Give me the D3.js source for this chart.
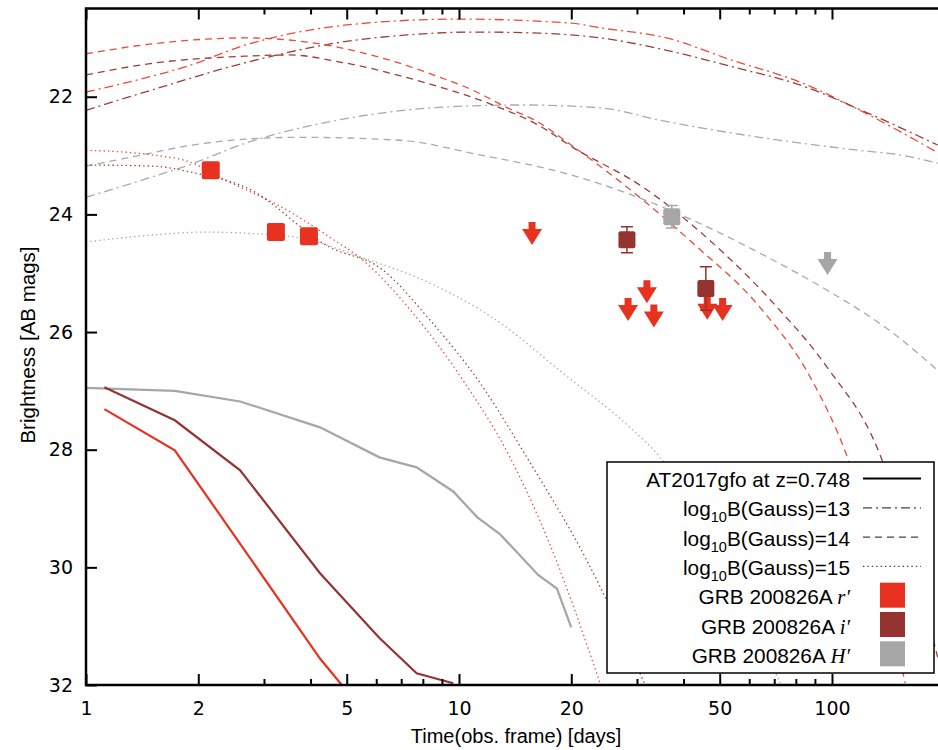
<!DOCTYPE html>
<html>
<head>
<meta charset="utf-8">
<script src="https://cdn.jsdelivr.net/npm/d3@7"></script>
<style>
body { margin: 0; background: #fff; }
svg { display: block; }
.tick text { font-family: "DejaVu Sans", sans-serif; font-size: 19px; fill: #000; }
.tick line { stroke: #000; stroke-width: 2; }
</style>
</head>
<body>
<div id="chart"></div>
<script>
// ---- data: [time (days), AB mag] ----
var xMajor = [1, 2, 5, 10, 20, 50, 100];
var xMinor = [3, 4, 6, 7, 8, 9, 30, 40, 60, 70, 80, 90];
var yTicks = [22, 24, 26, 28, 30, 32];

// AT2017gfo shifted to z=0.748
var kilonovaR = [[1.12,27.31],[1.73,28.01],[2.59,29.6],[4.24,31.55],[4.85,32.0]];
var kilonovaI = [[1.12,26.94],[1.73,27.5],[2.59,28.35],[4.24,30.1],[6.12,31.2],[7.7,31.8],[9.65,31.97]];
var kilonovaH = [[1.0,26.95],[1.73,27.0],[2.59,27.18],[4.24,27.62],[6.12,28.13],[7.7,28.3],[9.65,28.71],
                 [11.2,29.15],[12.9,29.44],[16.3,30.13],[18.3,30.36],[20.0,31.02]];

// magnetar-boosted models, log10 B = 13
var b13R = [[1,21.92],[1.36,21.72],[1.85,21.49],[2.68,21.12],[5,20.78],[10,20.68],[20,20.75],[24,20.83],
            [36,21.0],[54,21.38],[82,21.75],[123,22.28],[192,22.95]];
var b13I = [[1,22.23],[1.51,21.88],[2.68,21.42],[5.1,21.05],[7.25,20.95],[10.9,20.9],[16.5,20.92],[24,21.0],
            [36,21.21],[54,21.49],[82,21.8],[123,22.26],[192,22.82]];
var b13H = [[1,23.71],[1.51,23.36],[1.85,23.18],[2.68,22.79],[5.1,22.36],[8.9,22.18],[14.6,22.14],[24,22.19],
            [34.6,22.4],[64,22.69],[118,22.91],[152,22.99],[192,23.13]];
// log10 B = 14
var b14R = [[1,21.27],[1.51,21.1],[2.68,21.0],[3.91,21.07],[6.53,21.38],[8.9,21.67],[10.9,21.89],[13.4,22.18],
            [16.5,22.45],[18.7,22.69],[31.2,23.76],[42.4,24.49],[64.1,25.58],[87.5,26.77],[110,28.13],[134,29.88],[157,31.97]];
var b14I = [[1,21.63],[1.51,21.43],[2.68,21.31],[3.52,21.29],[4.8,21.41],[8.0,21.75],[12.1,22.12],[16.5,22.5],
            [20.2,22.86],[31.2,23.54],[47,24.44],[71.3,25.58],[97.1,26.6],[134,28.06],[192,31.53]];
var b14H = [[1,23.18],[1.36,23.01],[1.85,22.84],[2.68,22.72],[3.75,22.69],[6.94,22.74],[11.4,22.99],[18.7,23.28],
            [28.2,23.64],[42.4,24.1],[64.1,24.66],[97.1,25.29],[146,26.02],[192,26.65]];
// log10 B = 15
var b15R = [[1,22.91],[1.51,22.99],[1.9,23.11],[2.37,23.42],[3.31,23.86],[4.51,24.39],[5.53,24.78],[7.53,25.68],
            [10.25,26.82],[13.7,28.13],[17.5,29.6],[23.9,31.97]];
var b15I = [[1,23.16],[1.51,23.18],[1.97,23.3],[2.68,23.54],[4.51,24.56],[6.14,24.91],[8.37,25.8],[11.4,26.87],
            [15.2,28.13],[22,29.88],[24.9,30.56],[31.4,31.97]];
var b15H = [[1,24.47],[1.51,24.35],[2.1,24.3],[2.68,24.32],[3.75,24.4],[5.53,24.74],[8.37,25.17],[12.6,25.8],
            [19,26.7],[28.7,27.62],[34.6,28.13],[44.4,29.2],[64,31.23],[72.8,31.97]];

// GRB 200826A detections: [t, mag, err]
var detR = [[2.16,23.25,0.1],[3.23,24.30,0.08],[3.96,24.37,0.08]];
var detI = [[28.2,24.43,0.22],[45.9,25.26,0.37]];
var detH = [[37.2,24.04,0.19]];
// upper limits: [t, mag]
var limR = [[15.7,24.13],[28.4,25.42],[31.9,25.12],[33.3,25.53],[46.3,25.40],[50.9,25.42]];
var limH = [[97.3,24.64]];

var legendLabels = ["AT2017gfo at z=0.748", "13", "14", "15", "r\u2032", "i\u2032", "H\u2032"];

// ---- setup ----
var width = 938, height = 750;
var colR = "#e8321f", colI = "#953330", colH = "#a6a6a6";
var modR = "#ec4a3a", modI = "#9c3e3a", modH = "#a9a9a9";
var dashDot = "9,4,2,4", dashed = "7,5", dotted = "1.4,3";

var x = d3.scaleLog().domain([1, 193]).range([86, 938.5]);
var y = d3.scaleLinear().domain([20.5, 32]).range([8.5, 685]);

var svg = d3.select("#chart").append("svg")
  .attr("width", width)
  .attr("height", height);

svg.append("defs").append("clipPath").attr("id", "plotclip")
  .append("rect").attr("x", 86).attr("y", 8.5).attr("width", 860).attr("height", 676.5);

var plot = svg.append("g").attr("clip-path", "url(#plotclip)");

var line = d3.line()
  .x(function(d) { return x(d[0]); })
  .y(function(d) { return y(d[1]); })
  .curve(d3.curveMonotoneX);

var kinkLine = d3.line()
  .x(function(d) { return x(d[0]); })
  .y(function(d) { return y(d[1]); });

// model curves
var models = [
  [b13R, modR, dashDot], [b13I, modI, dashDot], [b13H, modH, dashDot],
  [b14R, modR, dashed], [b14I, modI, dashed], [b14H, modH, dashed],
  [b15R, modR, dotted], [b15I, modI, dotted], [b15H, modH, dotted]
];
models.forEach(function(m) {
  plot.append("path")
    .attr("d", line(m[0]))
    .attr("fill", "none")
    .attr("stroke", m[1])
    .attr("stroke-width", 1.3)
    .attr("stroke-dasharray", m[2]);
});

// AT2017gfo
[[kilonovaH, colH], [kilonovaI, colI], [kilonovaR, colR]].forEach(function(k) {
  plot.append("path")
    .attr("d", kinkLine(k[0]))
    .attr("fill", "none")
    .attr("stroke", k[1])
    .attr("stroke-width", 2.2);
});

// error bars + squares
function drawDetections(data, color, size) {
  var g = plot.append("g");
  data.forEach(function(d) {
    var cx = x(d[0]), y0 = y(d[1] - d[2]), y1 = y(d[1] + d[2]);
    g.append("line").attr("x1", cx).attr("x2", cx).attr("y1", y0).attr("y2", y1)
      .attr("stroke", color).attr("stroke-width", 1.5);
    [y0, y1].forEach(function(yy) {
      g.append("line").attr("x1", cx - 6).attr("x2", cx + 6).attr("y1", yy).attr("y2", yy)
        .attr("stroke", color).attr("stroke-width", 1.5);
    });
  });
  g.selectAll("rect").data(data).enter().append("rect")
    .attr("x", function(d) { return x(d[0]) - size / 2; })
    .attr("y", function(d) { return y(d[1]) - size / 2; })
    .attr("width", size).attr("height", size)
    .attr("rx", 2)
    .attr("fill", color);
}

var arrowShape = "M-3.5,0 H3.5 V7 H10 L0,23 L-10,7 H-3.5 Z";
function drawLimits(data, color) {
  plot.append("g").selectAll("path").data(data).enter().append("path")
    .attr("d", arrowShape)
    .attr("transform", function(d) { return "translate(" + x(d[0]) + "," + y(d[1]) + ")"; })
    .attr("fill", color);
}

drawLimits(limR, colR);
drawLimits(limH, colH);
drawDetections(detR, colR, 18);
drawDetections(detI, colI, 17);
drawDetections(detH, colH, 17);

// ---- axes ----
function noDomain(g) { g.select(".domain").remove(); }

svg.append("g").attr("transform", "translate(0,685)")
  .call(d3.axisBottom(x).tickValues(xMajor).tickFormat(d3.format("d")).tickSize(-11).tickPadding(17))
  .call(noDomain);
svg.append("g").attr("transform", "translate(0,685)")
  .call(d3.axisBottom(x).tickValues(xMinor).tickFormat("").tickSize(-6))
  .call(noDomain);
svg.append("g").attr("transform", "translate(0,8.5)")
  .call(d3.axisTop(x).tickValues(xMajor).tickFormat("").tickSize(-11))
  .call(noDomain);
svg.append("g").attr("transform", "translate(0,8.5)")
  .call(d3.axisTop(x).tickValues(xMinor).tickFormat("").tickSize(-6))
  .call(noDomain);
svg.append("g").attr("transform", "translate(86,0)")
  .call(d3.axisLeft(y).tickValues(yTicks).tickSize(-11).tickPadding(13))
  .call(noDomain);

svg.append("path")
  .attr("d", "M86,8.5 H945 M86,685 H945 M86,7.3 V686.2")
  .attr("fill", "none")
  .attr("stroke", "#000")
  .attr("stroke-width", 2.5);

svg.append("text")
  .attr("x", 516).attr("y", 743)
  .attr("text-anchor", "middle")
  .style("font-family", "'Liberation Sans', Arial, sans-serif")
  .style("font-size", "20px")
  .text("Time(obs. frame) [days]");

svg.append("text")
  .attr("transform", "translate(35,345) rotate(-90)")
  .attr("text-anchor", "middle")
  .style("font-family", "'Liberation Sans', Arial, sans-serif")
  .style("font-size", "20.5px")
  .text("Brightness [AB mags]");

// ---- legend ----
var legend = svg.append("g")
  .style("font-family", "'Liberation Sans', Arial, sans-serif")
  .style("font-size", "20.8px");
legend.append("rect")
  .attr("x", 607).attr("y", 462).attr("width", 327).attr("height", 211)
  .attr("fill", "#fff").attr("stroke", "#000").attr("stroke-width", 1.5);

var rowBase = function(i) { return 487 + i * 29.3; };

legend.append("text").attr("x", 850).attr("y", rowBase(0)).attr("text-anchor", "end").text(legendLabels[0]);
legend.append("line").attr("x1", 863).attr("x2", 921).attr("y1", rowBase(0) - 8.5).attr("y2", rowBase(0) - 8.5)
  .attr("stroke", "#000").attr("stroke-width", 2.2);

[dashDot, dashed, dotted].forEach(function(dash, j) {
  var i = j + 1;
  var t = legend.append("text").attr("x", 850).attr("y", rowBase(i)).attr("text-anchor", "end");
  t.append("tspan").text("log");
  t.append("tspan").attr("dy", 6).style("font-size", "14.5px").text("10");
  t.append("tspan").attr("dy", -6).text("B(Gauss)=" + legendLabels[i]);
  legend.append("line").attr("x1", 863).attr("x2", 921).attr("y1", rowBase(i) - 8.5).attr("y2", rowBase(i) - 8.5)
    .attr("stroke", "#444").attr("stroke-width", 1.2).attr("stroke-dasharray", dash);
});

[colR, colI, colH].forEach(function(c, j) {
  var i = j + 4;
  var t = legend.append("text").attr("x", 850).attr("y", rowBase(i)).attr("text-anchor", "end");
  t.append("tspan").text("GRB 200826A ");
  t.append("tspan").style("font-family", "'Liberation Serif', serif").style("font-style", "italic").text(legendLabels[i]);
  legend.append("rect").attr("x", 880).attr("y", rowBase(i) - 21.5).attr("width", 25).attr("height", 25)
    .attr("fill", c);
});
</script>
</body>
</html>
